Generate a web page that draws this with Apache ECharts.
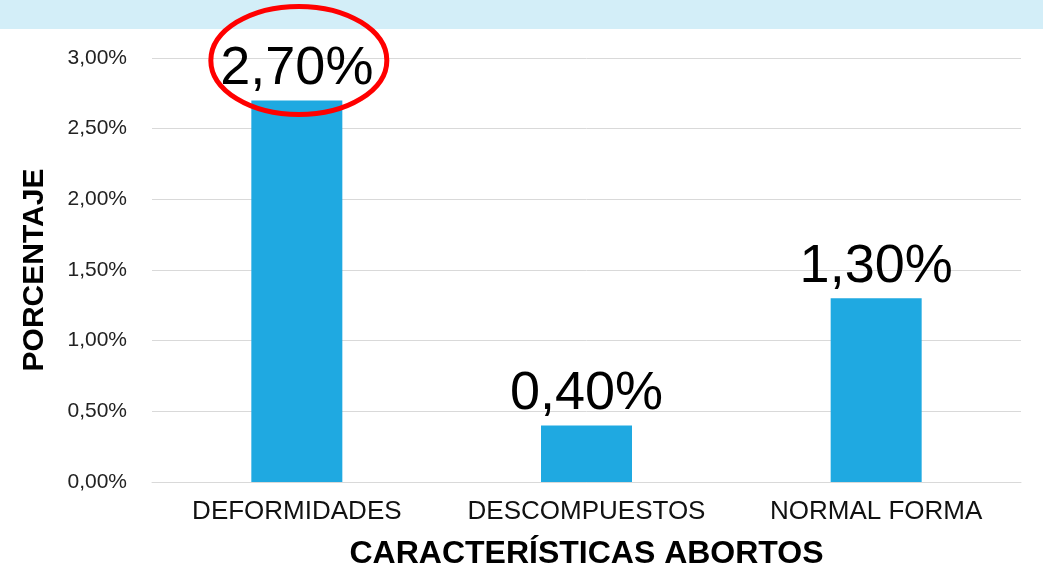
<!DOCTYPE html>
<html>
<head>
<meta charset="utf-8">
<script src="https://cdn.jsdelivr.net/npm/echarts@6/dist/echarts.min.js"></script>
<style>
  html, body { margin: 0; padding: 0; background: #fff; }
  #chart { width: 1043px; height: 572px; }
</style>
</head>
<body>
<div id="chart"></div>
<script>
// datos
const categories = ['DEFORMIDADES', 'DESCOMPUESTOS', 'NORMAL FORMA'];
const values = [2.70, 0.40, 1.30];
const yTicks = [0, 0.5, 1, 1.5, 2, 2.5, 3];
const highlightIndex = 0;

const fmt = (v) => v.toFixed(2).replace('.', ',') + '%';

const chart = echarts.init(document.getElementById('chart'));

const option = {
  animation: false,
  grid: { left: 152, right: 22, top: 58, bottom: 90, outerBoundsMode: 'none' },
  xAxis: {
    type: 'category',
    data: categories,
    axisTick: { show: false },
    axisLine: { lineStyle: { color: '#d9d9d9', width: 1 } },
    axisLabel: {
      color: '#111',
      fontSize: 26,
      fontFamily: 'Liberation Sans, Arial',
      margin: 17,
      interval: 0,
    },
    name: 'CARACTERÍSTICAS ABORTOS',
    nameLocation: 'middle',
    nameGap: 56,
    nameTextStyle: {
      color: '#000',
      fontSize: 32,
      fontWeight: 'bold',
      fontFamily: 'Liberation Sans, Arial',
    },
  },
  yAxis: {
    type: 'value',
    min: yTicks[0],
    max: yTicks[yTicks.length - 1],
    interval: 0.5,
    axisLine: { show: false },
    axisTick: { show: false },
    splitLine: { lineStyle: { color: '#d9d9d9', width: 1 } },
    axisLabel: {
      color: '#222',
      fontSize: 21,
      fontFamily: 'Liberation Sans, Arial',
      margin: 25,
      formatter: (v) => fmt(v),
    },
    name: 'PORCENTAJE',
    nameLocation: 'middle',
    nameGap: 102,
    nameTextStyle: {
      color: '#000',
      fontSize: 30,
      fontWeight: 'bold',
      fontFamily: 'Liberation Sans, Arial',
    },
  },
  series: [
    {
      type: 'bar',
      data: values,
      barWidth: 91,
      itemStyle: { color: '#1FA9E1' },
      label: {
        show: true,
        position: 'top',
        distance: 4,
        color: '#000',
        fontSize: 54,
        fontFamily: 'Liberation Sans, Arial',
        formatter: (p) => fmt(p.value),
      },
    },
  ],
};

chart.setOption(option);

// franja superior y elipse roja alrededor de la etiqueta destacada
const barTop = chart.convertToPixel({ seriesIndex: 0 }, [highlightIndex, values[highlightIndex]]);
chart.setOption({
  graphic: [
    {
      type: 'rect',
      z: -1,
      shape: { x: 0, y: 0, width: 1043, height: 29 },
      style: { fill: '#D3EEF8' },
    },
    {
      type: 'ellipse',
      z: 100,
      shape: { cx: barTop[0] + 2, cy: barTop[1] - 40, rx: 88, ry: 54 },
      style: { fill: 'none', stroke: '#FF0000', lineWidth: 5 },
    },
  ],
});
</script>
</body>
</html>
